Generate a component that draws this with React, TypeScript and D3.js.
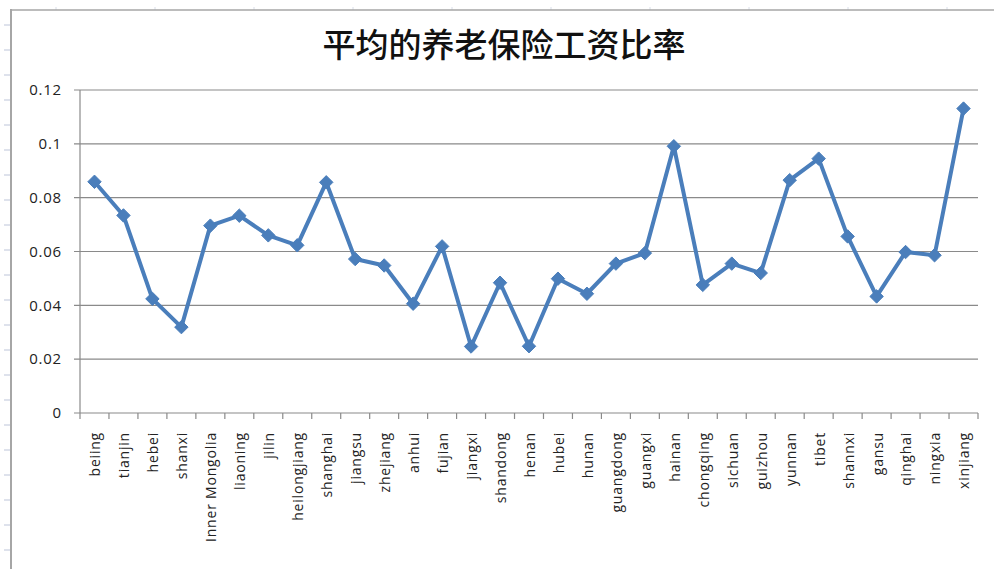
import React from "react";
import * as d3 from "d3";

const provinces = [
  "beiing", "tianjin", "hebei", "shanxi", "Inner Mongolia", "liaoning", "jilin",
  "heilongjiang", "shanghai", "jiangsu", "zhejiang", "anhui", "fujian", "jiangxi",
  "shandong", "henan", "hubei", "hunan", "guangdong", "guangxi", "hainan",
  "chongqing", "sichuan", "guizhou", "yunnan", "tibet", "shannxi", "gansu",
  "qinghai", "ningxia", "xinjiang",
];

const ratios = [
  0.0859, 0.0734, 0.0424, 0.0319, 0.0696, 0.0733, 0.0660,
  0.0623, 0.0857, 0.0572, 0.0548, 0.0406, 0.0619, 0.0247,
  0.0484, 0.0248, 0.0499, 0.0443, 0.0555, 0.0594, 0.0991,
  0.0476, 0.0555, 0.0520, 0.0865, 0.0945, 0.0656, 0.0433,
  0.0598, 0.0586, 0.1131,
];

const yTicks = [0, 0.02, 0.04, 0.06, 0.08, 0.1, 0.12];
const yTickLabels = ["0", "0.02", "0.04", "0.06", "0.08", "0.1", "0.12"];

const title = "平均的养老保险工资比率";

const W = 994;
const H = 569;
const plot = { left: 80, right: 978, top: 90, bottom: 413 };

export default function App() {
  const x = d3
    .scaleBand<string>()
    .domain(provinces)
    .range([plot.left, plot.right])
    .paddingInner(0)
    .paddingOuter(0);
  const y = d3.scaleLinear().domain([0, 0.12]).range([plot.bottom, plot.top]);

  const cx = (d: string) => (x(d) as number) + x.bandwidth() / 2;

  const line = d3
    .line<number>()
    .x((_, i) => cx(provinces[i]))
    .y((d) => y(d));

  const boundaries = d3.range(provinces.length + 1).map(
    (i) => plot.left + i * x.bandwidth()
  );

  const rowTicks = d3.range(25, H, 25);
  const colTicks = d3.range(56, W, 99);

  const diamond = d3.symbol().type(d3.symbolDiamond2).size(115)() as string;

  return (
    <svg
      width={W}
      height={H}
      style={{ position: "absolute", left: 0, top: 0, background: "#fff" }}
    >
      {/* spreadsheet decorations */}
      {rowTicks.map((ry) => (
        <line key={"r" + ry} x1={4} x2={11} y1={ry} y2={ry} stroke="#d3d9e6" strokeWidth={1.5} />
      ))}
      {colTicks.map((cxv) => (
        <line key={"c" + cxv} x1={cxv} x2={cxv} y1={7} y2={10} stroke="#d8dde8" strokeWidth={1} />
      ))}
      <line x1={11} x2={11} y1={9} y2={H} stroke="#a6a6a6" strokeWidth={2} />
      <line x1={10} x2={W} y1={10} y2={10} stroke="#a6a6a6" strokeWidth={1.5} />

      {/* title */}
      <text
        x={504}
        y={57}
        textAnchor="middle"
        fontFamily="'Noto Sans CJK SC', sans-serif"
        fontWeight={500}
        fontSize={33}
        fill="#111"
      >
        {title}
      </text>

      {/* gridlines */}
      {yTicks.map((t) => (
        <line
          key={"g" + t}
          x1={plot.left - 6}
          x2={plot.right}
          y1={y(t)}
          y2={y(t)}
          stroke="#8a8a8a"
          strokeWidth={1.2}
        />
      ))}
      {/* y axis line */}
      <line x1={plot.left} x2={plot.left} y1={plot.top} y2={plot.bottom} stroke="#8a8a8a" strokeWidth={1.2} />
      {/* x ticks */}
      {boundaries.map((bx, i) => (
        <line key={"xt" + i} x1={bx} x2={bx} y1={plot.bottom} y2={plot.bottom + 6} stroke="#8a8a8a" strokeWidth={1.2} />
      ))}

      {/* y tick labels */}
      {yTicks.map((t, i) => (
        <text
          key={"yl" + t}
          x={62}
          y={y(t)}
          dy="0.35em"
          textAnchor="end"
          fontFamily="'Open Sans', sans-serif"
          fontSize={15}
          letterSpacing={0.8}
          fill="#222"
        >
          {yTickLabels[i]}
        </text>
      ))}

      {/* x labels */}
      {provinces.map((p) => (
        <text
          key={"xl" + p}
          transform={`translate(${cx(p) + 1},${432}) rotate(-90)`}
          dy="0.35em"
          textAnchor="end"
          fontFamily="'Open Sans', sans-serif"
          fontSize={14}
          letterSpacing={0.8}
          fill="#222"
        >
          {p}
        </text>
      ))}

      {/* series */}
      <path
        d={line(ratios) as string}
        fill="none"
        stroke="#4a7ebb"
        strokeWidth={4}
        strokeLinejoin="round"
      />
      {ratios.map((v, i) => (
        <path
          key={"m" + i}
          d={diamond}
          transform={`translate(${cx(provinces[i])},${y(v)})`}
          fill="#4a7ebb"
          stroke="#4a7ebb"
          strokeWidth={1}
        />
      ))}
    </svg>
  );
}
